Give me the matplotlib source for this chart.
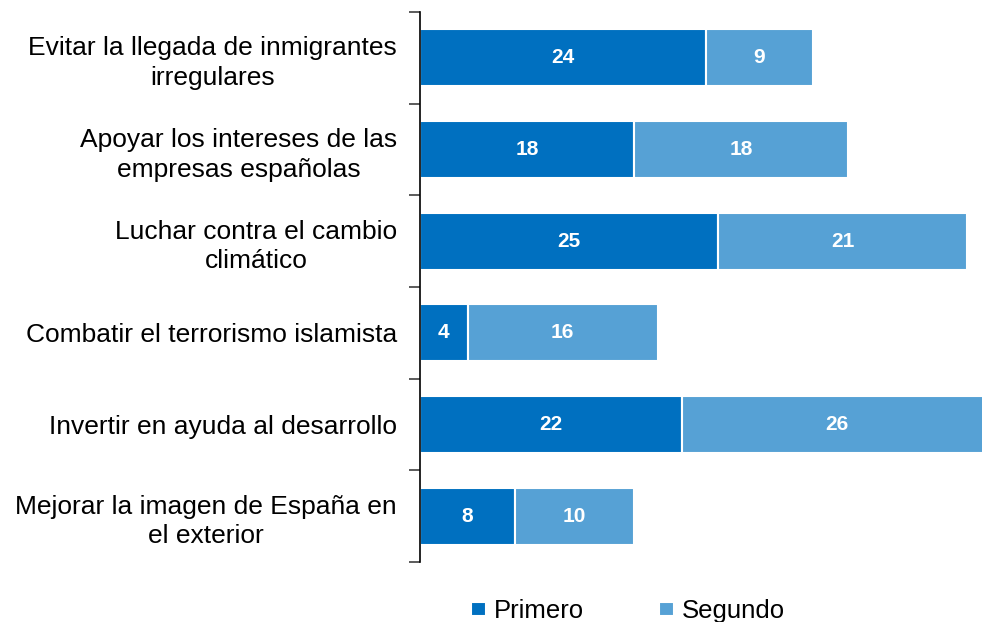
import matplotlib.pyplot as plt
import numpy as np

categories = [
    "Evitar la llegada de inmigrantes\nirregulares",
    "Apoyar los intereses de las\nempresas españolas",
    "Luchar contra el cambio\nclimático",
    "Combatir el terrorismo islamista",
    "Invertir en ayuda al desarrollo",
    "Mejorar la imagen de España en\nel exterior",
]
primero = [24, 18, 25, 4, 22, 8]
segundo = [9, 18, 21, 16, 26, 10]

c1 = "#0070C0"
c2 = "#56A1D5"

plt.rcParams['font.family'] = ['Liberation Sans', 'DejaVu Sans']

fig = plt.figure(figsize=(9.82, 6.22), dpi=100)
ax = fig.add_axes([420 / 982, 60 / 622, 562 / 982, 550 / 622])

y = np.arange(len(categories))
b1 = ax.barh(y, primero, height=0.62, color=c1, edgecolor="white", linewidth=1.5, label="Primero")
b2 = ax.barh(y, segundo, left=primero, height=0.62, color=c2, edgecolor="white", linewidth=1.5, label="Segundo")

for bars in (b1, b2):
    for r in bars:
        ax.text(r.get_x() + r.get_width() / 2, r.get_y() + r.get_height() / 2,
                str(int(r.get_width())), ha="center", va="center",
                color="white", fontsize=15, fontweight="bold")

ax.set_xlim(0, 562 / 11.9)
ax.set_ylim(len(categories) - 0.5, -0.5)
ax.set_yticks(y)
ax.set_yticklabels(categories, fontsize=19, multialignment="center", linespacing=1.3)
ax.tick_params(axis="y", which="major", length=0, pad=16.5)
ax.set_yticks(np.arange(-0.5, len(categories), 1), minor=True)
ax.tick_params(axis="y", which="minor", length=8, width=1.2, color="#404040")
ax.set_xticks([])
for s in ["top", "right", "bottom"]:
    ax.spines[s].set_visible(False)
ax.spines["left"].set_linewidth(1.2)

fig.legend(handles=[b1, b2], loc="center", bbox_to_anchor=(628 / 982, 1 - 611 / 622),
           ncol=2, frameon=False, fontsize=18.5, handlelength=0.6, handleheight=0.45,
           handletextpad=0.3, columnspacing=2.9)

fig.savefig("out.png", dpi=100)
